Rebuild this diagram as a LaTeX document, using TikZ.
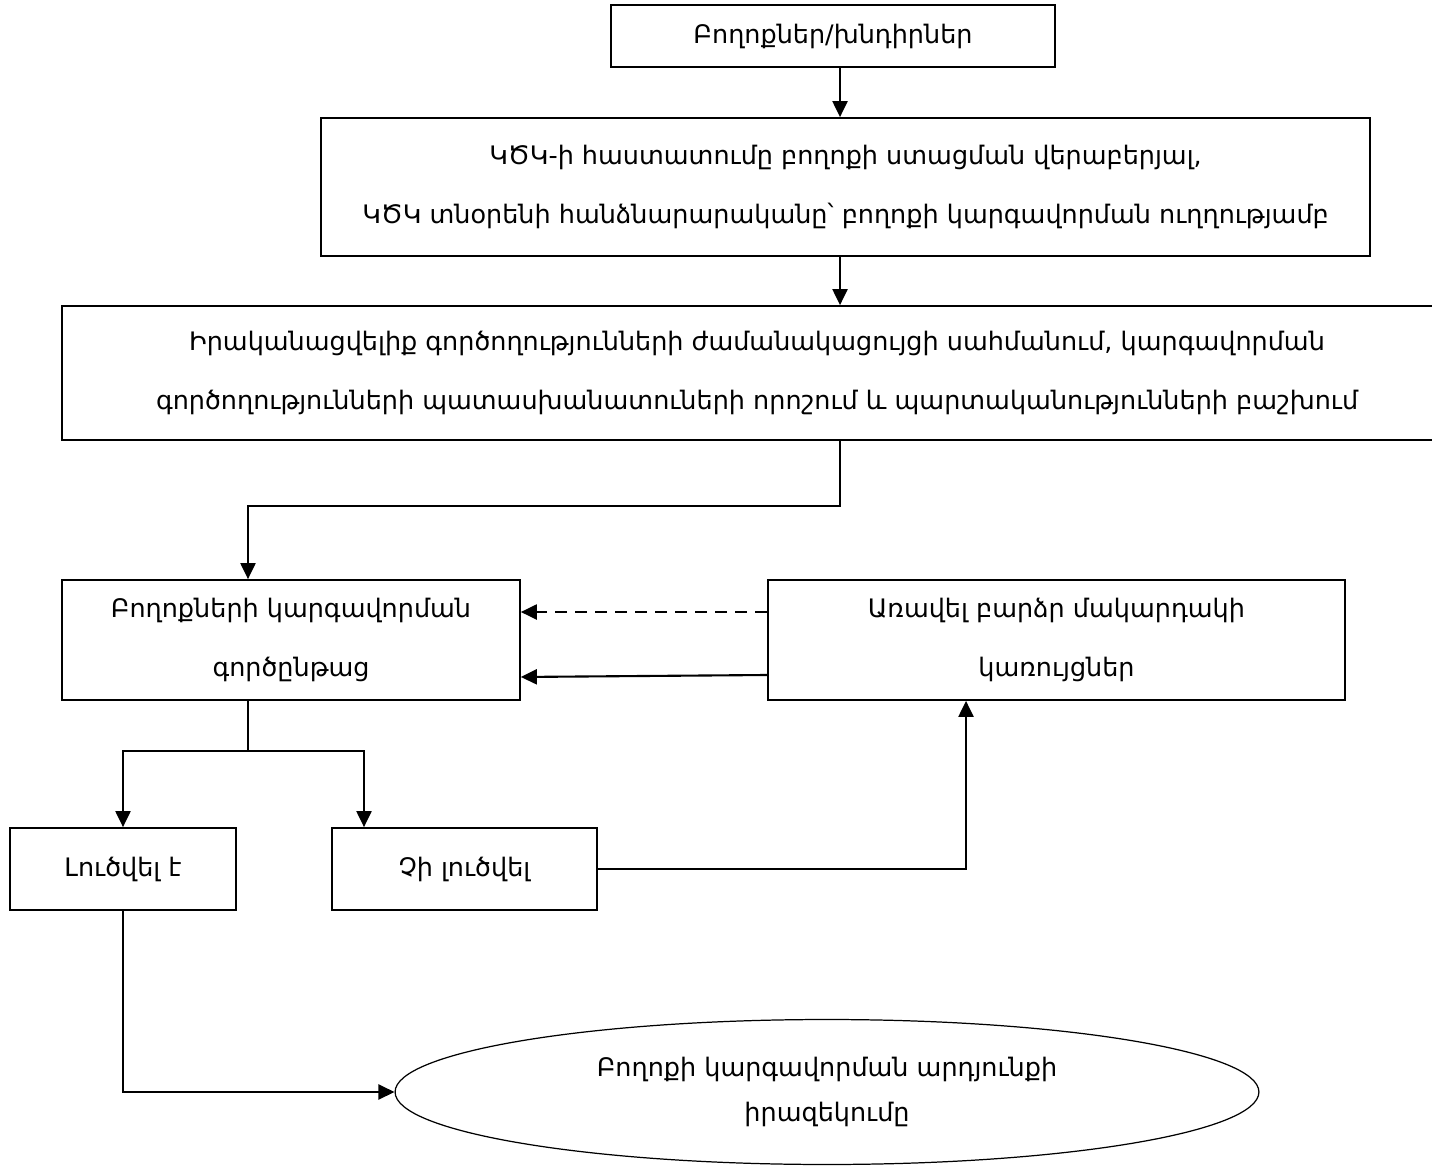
\documentclass[tikz,border=0pt]{standalone}
\usepackage{fontspec}
\setmainfont{DejaVu Sans}
\usepackage{tikz}
\usetikzlibrary{arrows,arrows.meta,shapes}
\usetikzlibrary{calc}
\tikzstyle{stagebox}=[draw, line width=1pt, align=center, inner sep=0pt]
\tikzstyle{flow}=[line width=1.2pt, -{Triangle[length=0.32cm, width=0.3cm]}]
\tikzstyle{plain}=[line width=1.2pt]
\newcommand{\txt}{\fontsize{14.5}{34}\selectfont}
\newcommand{\ovaltxt}{\fontsize{14.5}{26}\selectfont}

\begin{document}
\begin{tikzpicture}[x=0.02cm, y=-0.02cm, font=\txt]
	\clip (0,0) rectangle (1432,1168);
	\coordinate (spine) at (840,0);
	\coordinate (split) at (248,0);
	\coordinate (left) at (123,0);
	\coordinate (right) at (364,0);
	\coordinate (up) at (966,0);
	\node[stagebox, minimum width=8.88cm, minimum height=1.24cm] (b1) at (833,36) {Բողոքներ/խնդիրներ};
	\node[stagebox, minimum width=20.98cm, minimum height=2.76cm] (b2) at (845.5,187) {ԿԾԿ-ի հաստատումը բողոքի ստացման վերաբերյալ,\\ԿԾԿ տնօրենի հանձնարարականը՝ բողոքի կարգավորման ուղղությամբ};
	\node[stagebox, minimum width=27.8cm, minimum height=2.68cm] (b3) at (757,373) {Իրականացվելիք գործողությունների ժամանակացույցի սահմանում, կարգավորման\\գործողությունների պատասխանատուների որոշում և պարտականությունների բաշխում};
	\node[stagebox, minimum width=9.16cm, minimum height=2.4cm] (b4) at (291,640) {Բողոքների կարգավորման\\գործընթաց};
	\node[stagebox, minimum width=11.54cm, minimum height=2.4cm] (b5) at (1056.5,640) {Առավել բարձր մակարդակի\\կառույցներ};
	\node[stagebox, minimum width=4.52cm, minimum height=1.64cm] (b6) at (123,869) {Լուծվել է};
	\node[stagebox, minimum width=5.3cm, minimum height=1.64cm] (b7) at (464.5,869) {Չի լուծվել};
	\node[stagebox, ellipse, line width=0.7pt, minimum width=17.28cm, minimum height=2.9cm, font=\ovaltxt] (res) at (827,1092) {Բողոքի կարգավորման արդյունքի\\իրազեկումը};
	\draw[flow] (b1.south -| spine) -- (b2.north -| spine);
	\draw[flow] (b2.south -| spine) -- (b3.north -| spine);
	\draw[flow] (b3.south -| spine) -- ++(0,65) -| (b4.north -| split);
	\draw[flow, dash pattern=on 0.24cm off 0.16cm] ([yshift=0.56cm]b5.west) -- ([yshift=0.56cm]b4.east);
	\draw[flow] ([yshift=-0.7cm]b5.west) -- ([yshift=-0.74cm]b4.east);
	\draw[plain] (b4.south -| split) -- ++(0,50) coordinate (fork);
	\draw[flow] (fork) -| (b6.north -| left);
	\draw[flow] (fork) -| (b7.north -| right);
	\draw[flow] (b7.east) -| (b5.south -| up);
	\draw[flow] (b6.south) |- (res.west);
\end{tikzpicture}
\end{document}
